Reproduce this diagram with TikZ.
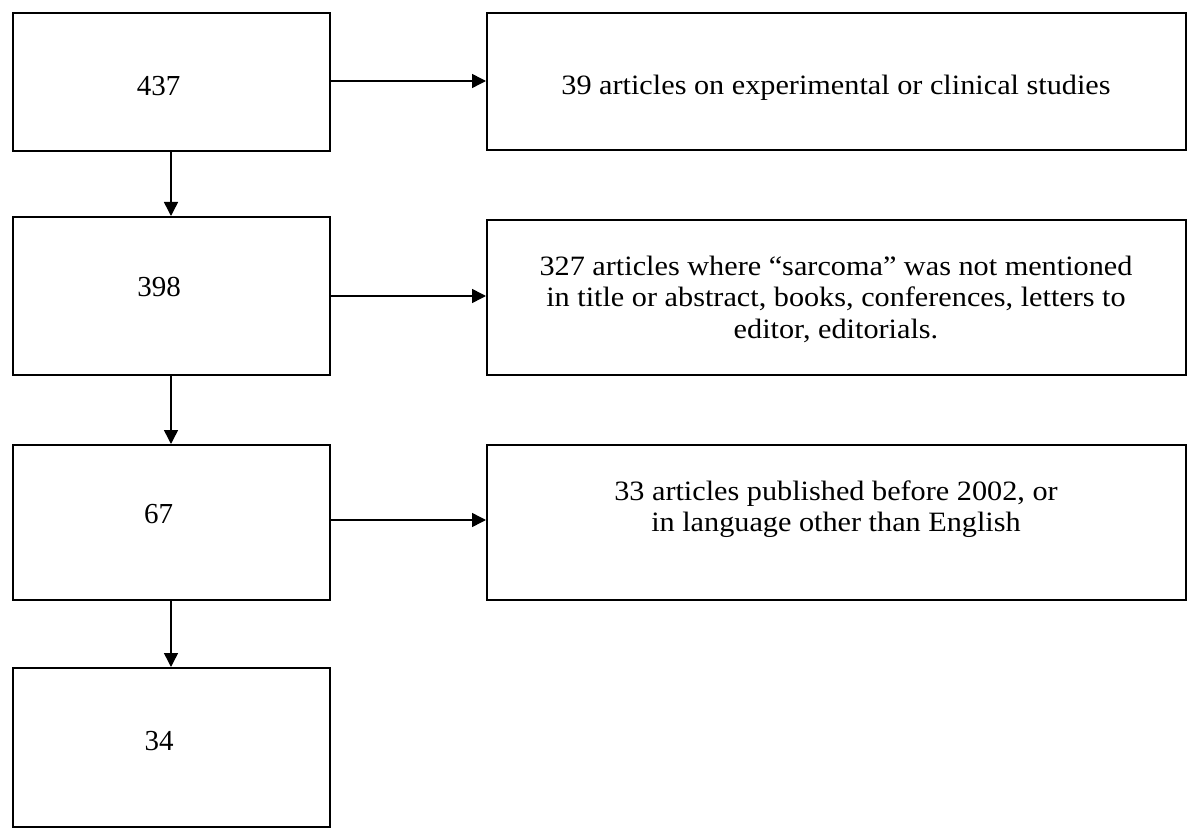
\documentclass[tikz,border=0pt]{standalone}
\usepackage{fontspec}
\setmainfont{Liberation Serif}
\newfontfamily\widefont{Liberation Serif}[FakeStretch=1.08]
\usetikzlibrary{arrows.meta}
\begin{document}
\begin{tikzpicture}[x=1pt,y=-1pt,
  box/.style={draw,line width=1.8pt,inner sep=0pt},
  num/.style={font=\fontsize{29}{34}\selectfont,anchor=base},
  lbl/.style={font=\widefont\fontsize{28}{31.5}\selectfont,align=center},
  arr/.style={line width=1.5pt,-{Triangle[length=14pt,width=14pt]}}]
\useasboundingbox (0,0) rectangle (1200,837);
% left boxes
\node[box,minimum width=317pt,minimum height=138pt,anchor=north west] (b1) at (12,12) {};
\node[box,minimum width=317pt,minimum height=158pt,anchor=north west] (b2) at (12,216) {};
\node[box,minimum width=317pt,minimum height=155pt,anchor=north west] (b3) at (12,444) {};
\node[box,minimum width=317pt,minimum height=159pt,anchor=north west] (b4) at (12,667) {};
\node[num] (t1) at (158.5,96) {437};
\node[num] (t2) at (159,297) {398};
\node[num] (t3) at (158.5,523) {67};
\node[num] (t4) at (159,750) {34};
% right boxes
\node[box,minimum width=699pt,minimum height=137pt,anchor=north west] (r1) at (486,12) {};
\node[box,minimum width=699pt,minimum height=155pt,anchor=north west] (r2) at (486,219) {};
\node[box,minimum width=699pt,minimum height=155pt,anchor=north west] (r3) at (486,444) {};
\node[lbl,anchor=base] (s1) at (836,95) {39 articles on experimental or clinical studies};
\node[lbl] (s2) at (836,299) {327 articles where “sarcoma” was not mentioned\\in title or abstract, books, conferences, letters to\\editor, editorials.};
\node[lbl] (s3) at (836,509) {33 articles published before 2002, or\\in language other than English};
% arrows
\draw[arr] (b1.east |- 0,81) -- (r1.west |- 0,81);
\draw[arr] (b2.east |- 0,296) -- (r2.west |- 0,296);
\draw[arr] (b3.east |- 0,520) -- (r3.west |- 0,520);
\draw[arr] (b1.south -| 171,0) -- (b2.north -| 171,0);
\draw[arr] (b2.south -| 171,0) -- (b3.north -| 171,0);
\draw[arr] (b3.south -| 171,0) -- (b4.north -| 171,0);
\end{tikzpicture}
\end{document}
